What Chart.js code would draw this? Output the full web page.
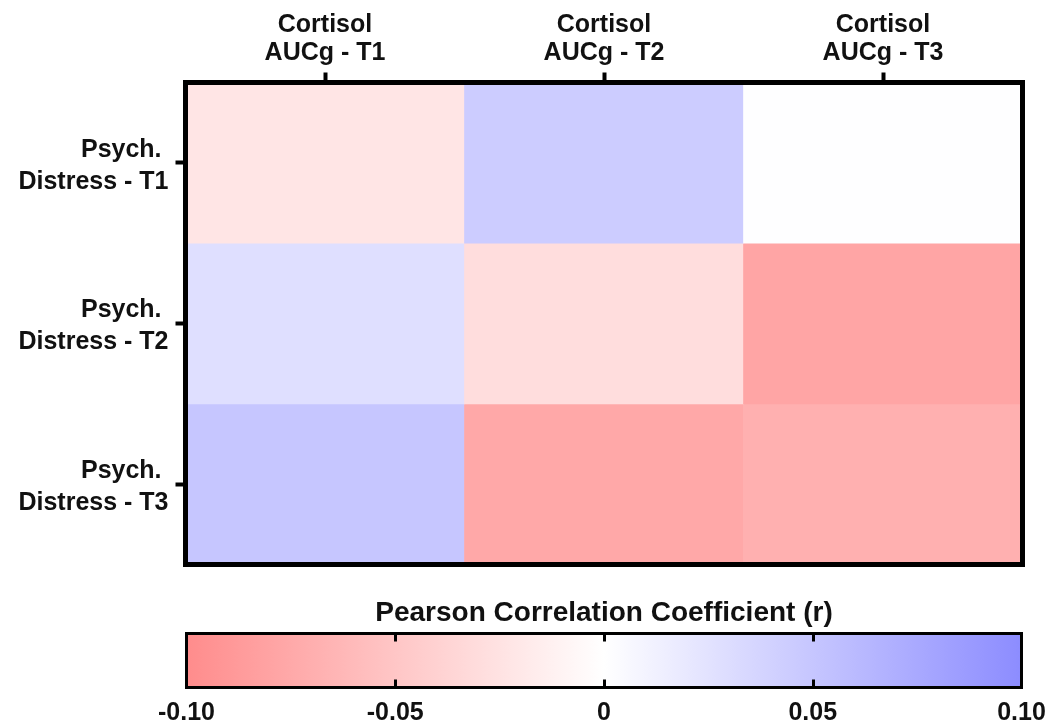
<!DOCTYPE html>
<html>
<head>
<meta charset="utf-8">
<title>Cortisol AUCg vs Psych. Distress</title>
<script src="https://cdn.jsdelivr.net/npm/chart.js@4.4.1/dist/chart.umd.min.js"></script>
<style>
  html, body { margin: 0; padding: 0; background: #fff; }
  #heatmap { position: absolute; left: 0; top: 0; }
  #colorbar { position: absolute; left: 0; top: 585px; }
</style>
</head>
<body>
<canvas id="heatmap" width="1054" height="580"></canvas>
<canvas id="colorbar" width="1054" height="140"></canvas>
<script>
// Column / row labels
const cortisolLabels = [
  ['Cortisol', 'AUCg - T1'],
  ['Cortisol', 'AUCg - T2'],
  ['Cortisol', 'AUCg - T3']
];
const distressLabels = [
  ['Psych. ', 'Distress - T1'],
  ['Psych. ', 'Distress - T2'],
  ['Psych. ', 'Distress - T3']
];

// Pearson r per row (one value per cortisol column)
const distressT1 = [-0.023, 0.044, 0.001];
const distressT2 = [0.028, -0.030, -0.078];
const distressT3 = [0.050, -0.076, -0.069];
const correlations = [distressT1, distressT2, distressT3];

// Colour scale
const scaleTicks = [-0.10, -0.05, 0, 0.05, 0.10];

const FONT_FAMILY = '"Liberation Sans", Arial, Helvetica, sans-serif';
const TEXT = '#111';
const NEG_END = [255, 140, 140];
const POS_END = [140, 140, 255];

function colorFor(v) {
  const lim = scaleTicks[scaleTicks.length - 1];
  const t = Math.max(-1, Math.min(1, v / lim));
  const end = t < 0 ? NEG_END : POS_END;
  const a = Math.abs(t);
  const c = end.map(ch => Math.round(255 + (ch - 255) * a));
  return `rgb(${c[0]}, ${c[1]}, ${c[2]})`;
}

// Box around the plot area
const framePlugin = {
  id: 'frame',
  afterDraw(chart, args, opts) {
    const { ctx, chartArea: a } = chart;
    ctx.save();
    ctx.strokeStyle = '#000';
    ctx.lineWidth = opts.width || 3;
    ctx.strokeRect(a.left, a.top, a.right - a.left, a.bottom - a.top);
    ctx.restore();
  }
};

// Short ticks on the inside of the colour bar
const innerTicksPlugin = {
  id: 'innerTicks',
  afterDraw(chart) {
    const { ctx, chartArea: a } = chart;
    const x = chart.scales.x;
    ctx.save();
    ctx.strokeStyle = '#000';
    ctx.lineWidth = 3;
    scaleTicks.slice(1, -1).forEach(v => {
      const px = Math.round(x.getPixelForValue(v)) + 0.5;
      ctx.beginPath();
      ctx.moveTo(px, a.top);
      ctx.lineTo(px, a.top + 8);
      ctx.moveTo(px, a.bottom);
      ctx.lineTo(px, a.bottom - 8);
      ctx.stroke();
    });
    ctx.restore();
  }
};

// keep the plot area where the layout padding puts it
function noLabelPadding(scale) {
  scale.paddingLeft = 0;
  scale.paddingRight = 0;
  scale.paddingTop = 0;
  scale.paddingBottom = 0;
}

const labelFont = { family: FONT_FAMILY, size: 25, weight: 'bold' };

new Chart(document.getElementById('heatmap'), {
  type: 'bar',
  data: {
    labels: cortisolLabels,
    datasets: correlations.map((row, i) => ({
      label: distressLabels[i].join(' '),
      data: cortisolLabels.map(() => [i, i + 1]),
      backgroundColor: row.map(colorFor),
      borderWidth: 0,
      barPercentage: 1,
      categoryPercentage: 1,
      grouped: false
    }))
  },
  options: {
    responsive: false,
    animation: false,
    layout: { padding: { left: 0, right: 31.5, top: 0, bottom: 15.5 } },
    plugins: {
      legend: { display: false },
      tooltip: { enabled: false },
      frame: { width: 5 }
    },
    scales: {
      x: {
        position: 'top',
        grid: { offset: false, drawOnChartArea: false, tickLength: 10, tickWidth: 4, tickColor: '#000' },
        border: { display: false },
        ticks: { color: TEXT, padding: 5, font: { ...labelFont, lineHeight: 1.14 }, maxRotation: 0 },
        afterFit(scale) {
          noLabelPadding(scale);
          scale.height = 82.5;
        }
      },
      y: {
        type: 'linear',
        min: 0,
        max: correlations.length,
        reverse: true,
        grid: { drawOnChartArea: false, tickLength: 10, tickWidth: 4, color: '#000' },
        border: { display: false },
        afterBuildTicks(scale) {
          scale.ticks = distressLabels.map((_, i) => ({ value: i + 0.5 }));
        },
        ticks: {
          color: TEXT,
          padding: 7,
          labelOffset: 3,
          font: { ...labelFont, lineHeight: 1.28 },
          callback: (value, index) => distressLabels[index]
        },
        afterFit(scale) {
          noLabelPadding(scale);
          scale.width = 185.5;
        }
      }
    }
  },
  plugins: [framePlugin]
});

new Chart(document.getElementById('colorbar'), {
  type: 'bar',
  data: {
    labels: ['r'],
    datasets: [{
      data: [[scaleTicks[0], scaleTicks[scaleTicks.length - 1]]],
      backgroundColor(context) {
        const chart = context.chart;
        if (!chart.chartArea) return '#fff';
        const x = chart.scales.x;
        const x0 = x.getPixelForValue(scaleTicks[0]);
        const x1 = x.getPixelForValue(scaleTicks[scaleTicks.length - 1]);
        const g = chart.ctx.createLinearGradient(x0, 0, x1, 0);
        scaleTicks.forEach((v, i) => g.addColorStop(i / (scaleTicks.length - 1), colorFor(v)));
        return g;
      },
      borderWidth: 0,
      barPercentage: 1,
      categoryPercentage: 1
    }]
  },
  options: {
    indexAxis: 'y',
    responsive: false,
    animation: false,
    layout: { padding: { left: 186.5, right: 32.5, top: 0, bottom: 0 } },
    plugins: {
      legend: { display: false },
      tooltip: { enabled: false },
      frame: { width: 3 },
      title: {
        display: true,
        text: 'Pearson Correlation Coefficient (r)',
        color: TEXT,
        font: { family: FONT_FAMILY, size: 28, weight: 'bold', lineHeight: 1.2 },
        padding: { top: 11, bottom: 3.9 }
      }
    },
    scales: {
      y: { display: false },
      x: {
        type: 'linear',
        min: scaleTicks[0],
        max: scaleTicks[scaleTicks.length - 1],
        grid: { display: false },
        border: { display: false },
        afterBuildTicks(scale) {
          scale.ticks = scaleTicks.map(v => ({ value: v }));
        },
        ticks: {
          color: TEXT,
          padding: 3,
          font: { family: FONT_FAMILY, size: 25, weight: 'bold' },
          callback: v => (Math.abs(v) < 1e-9 ? '0' : v.toFixed(2))
        },
        afterFit(scale) {
          noLabelPadding(scale);
          scale.height = 37.5;
        }
      }
    }
  },
  plugins: [framePlugin, innerTicksPlugin]
});
</script>
</body>
</html>
